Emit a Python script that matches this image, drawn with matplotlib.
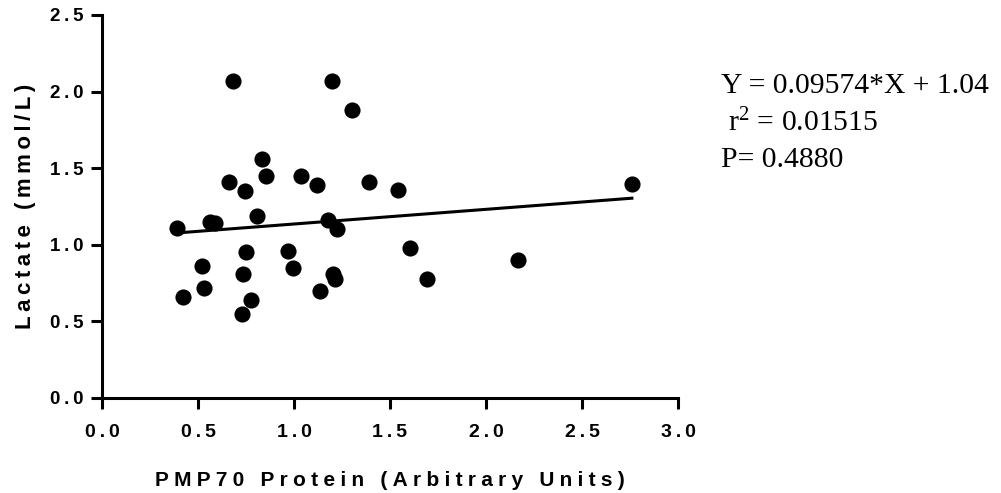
import numpy as np
import matplotlib
matplotlib.use('Agg')
import matplotlib.pyplot as plt

# --- Data ---
pmp70 = [0.39, 0.42, 0.52, 0.531, 0.5625, 0.589, 0.66, 0.682, 0.729, 0.734,
         0.745, 0.75, 0.776, 0.807, 0.833, 0.854, 0.969, 0.995, 1.036, 1.12,
         1.135, 1.177, 1.20, 1.203, 1.215, 1.224, 1.30, 1.39, 1.54, 1.604,
         1.693, 2.167, 2.76]
lactate = [1.11, 0.66, 0.86, 0.72, 1.15, 1.14, 1.41, 2.07, 0.55, 0.81,
           1.35, 0.95, 0.64, 1.19, 1.56, 1.45, 0.96, 0.85, 1.45, 1.39,
           0.70, 1.16, 2.07, 0.81, 0.78, 1.10, 1.88, 1.41, 1.36, 0.98,
           0.78, 0.90, 1.40]

slope = 0.09574
intercept = 1.04
stats_lines = ['Y = 0.09574*X + 1.04', ' r$^2$ = 0.01515', 'P= 0.4880']

x_ticks = [0.0, 0.5, 1.0, 1.5, 2.0, 2.5, 3.0]
y_ticks = [0.0, 0.5, 1.0, 1.5, 2.0, 2.5]

plt.rcParams['font.family'] = ['Liberation Sans', 'DejaVu Sans']
plt.rcParams['mathtext.fontset'] = 'custom'
plt.rcParams['mathtext.rm'] = 'Liberation Serif'
plt.rcParams['mathtext.it'] = 'Liberation Serif'


def spaced(s, gap='\u2009'):
    # GraphPad-style wide letter spacing
    return gap.join(s)


fig = plt.figure(figsize=(10.01, 4.93), dpi=100)
ax = fig.add_axes([102 / 1001, 95 / 493, 576 / 1001, 383 / 493])

ax.scatter(pmp70, lactate, s=135, color='black', zorder=3, linewidths=0, clip_on=False)

xf = np.array([min(pmp70), max(pmp70)])
ax.plot(xf, slope * xf + intercept, color='black', linewidth=2.2, zorder=2)

ax.set_xlim(0, 3.0)
ax.set_ylim(0, 2.5)
ax.set_xticks(x_ticks)
ax.set_yticks(y_ticks)
ax.set_xticklabels([spaced(f'{v:.1f}') for v in x_ticks], fontsize=14, fontweight='bold')
ax.set_yticklabels([spaced(f'{v:.1f}') for v in y_ticks], fontsize=13.5, fontweight='bold')

for side in ('top', 'right'):
    ax.spines[side].set_visible(False)
for side in ('left', 'bottom'):
    ax.spines[side].set_linewidth(2.2)
ax.tick_params(axis='x', direction='out', length=8, width=2.2, pad=11)
ax.tick_params(axis='y', direction='out', length=8, width=2.2, pad=5.5)

ax.set_xlabel(spaced('PMP70 Protein (Arbitrary Units)', '\u2005'), fontsize=15,
              fontweight='bold', labelpad=21)
ax.set_ylabel(spaced('Lactate (mmol/L)'), fontsize=16, fontweight='bold', labelpad=10)

for i, line in enumerate(stats_lines):
    fig.text(721 / 1001, 1 - (86 + 37 * i) / 493, line, fontsize=21.3,
             family='Liberation Serif', va='center', ha='left')

fig.savefig('out.png', dpi=100)
